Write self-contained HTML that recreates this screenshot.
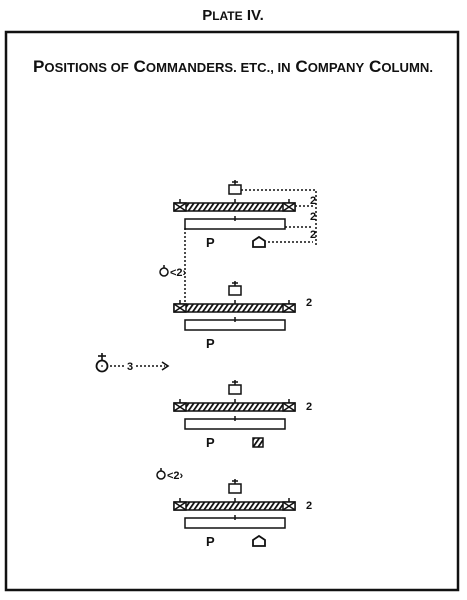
<!DOCTYPE html>
<html><head><meta charset="utf-8"><style>
html,body{margin:0;padding:0;background:#fff;}
svg{display:block;}
text{font-family:"Liberation Sans",sans-serif;fill:#111;}
</style></head><body>
<svg width="467" height="600" viewBox="0 0 467 600">
<defs>
<pattern id="hatch" width="5" height="8" patternUnits="userSpaceOnUse" patternTransform="skewX(-35)">
<rect width="5" height="8" fill="#fff"/><rect width="2.2" height="8" fill="#111"/>
</pattern>
</defs>
<text x="233" y="20" text-anchor="middle" font-size="15" font-weight="bold">P<tspan font-size="12">LATE</tspan> IV.</text>
<rect x="6" y="32" width="452" height="558" fill="none" stroke="#111" stroke-width="2.5"/>
<text x="233" y="72" text-anchor="middle" font-size="17" font-weight="bold" textLength="400" lengthAdjust="spacingAndGlyphs">P<tspan font-size="13">OSITIONS OF</tspan> C<tspan font-size="13">OMMANDERS. ETC., IN</tspan> C<tspan font-size="13">OMPANY</tspan> C<tspan font-size="13">OLUMN.</tspan></text>
<g id="forms"></g>
<g stroke="#111" stroke-width="1.5" stroke-dasharray="2,2" fill="none">
<path d="M241 190 H316 V245"/><path d="M295 206 H313"/><path d="M285 227 H313"/><path d="M268 242 H313"/>
<path d="M185 228 V302"/>
</g>
<g font-size="11" font-weight="bold">
<text x="310" y="204">2</text><text x="310" y="220">2</text><text x="310" y="238">2</text>
<text x="306" y="306">2</text><text x="306" y="410">2</text><text x="306" y="509">2</text>
</g>
<g>
<circle cx="164" cy="272" r="4" fill="none" stroke="#111" stroke-width="1.5"/><line x1="164" y1="265" x2="164" y2="268" stroke="#111" stroke-width="1.5"/>
<text x="170" y="276" font-size="11" font-weight="bold">&lt;2›</text></g>
<g>
<circle cx="161" cy="475" r="4" fill="none" stroke="#111" stroke-width="1.5"/><line x1="161" y1="468" x2="161" y2="471" stroke="#111" stroke-width="1.5"/>
<text x="167" y="479" font-size="11" font-weight="bold">&lt;2›</text></g>
<g>
<circle cx="102" cy="366" r="5.5" fill="none" stroke="#111" stroke-width="1.8"/><circle cx="102" cy="366" r="0.9" fill="#111"/>
<line x1="102" y1="353" x2="102" y2="360" stroke="#111" stroke-width="1.6"/><line x1="98" y1="356" x2="106" y2="356" stroke="#111" stroke-width="1.6"/>
<line x1="110" y1="366" x2="125" y2="366" stroke="#111" stroke-width="1.5" stroke-dasharray="2,2"/>
<text x="127" y="370" font-size="11" font-weight="bold">3</text>
<line x1="136" y1="366" x2="165" y2="366" stroke="#111" stroke-width="1.5" stroke-dasharray="2,2"/>
<path d="M162 362 L168 366 L162 370" fill="none" stroke="#111" stroke-width="1.6"/>
</g>
</svg>
<script>
const formationTops=[185,286,385,484];
const rearMarks=['dome','none','hatched','dome'];
const ns='http://www.w3.org/2000/svg';
const g=document.getElementById('forms');
function mk(t,a,p){const e=document.createElementNS(ns,t);for(const k in a)e.setAttribute(k,a[k]);p.appendChild(e);return e;}
formationTops.forEach((y0,i)=>{
 const f=mk('g',{},g);
 
 
 const s={stroke:'#111','stroke-width':1.5};
 mk('rect',Object.assign({x:229,y:y0,width:12,height:9,fill:'#fff'},s),f);
 mk('line',Object.assign({x1:235,y1:y0-5,x2:235,y2:y0},s),f);
 mk('line',Object.assign({x1:232,y1:y0-3,x2:238,y2:y0-3},s),f);
 const by=y0+18;
 mk('rect',Object.assign({x:174,y:by,width:121,height:8,fill:'url(#hatch)'},s),f);
 [174,283].forEach(x=>{mk('rect',Object.assign({x:x,y:by,width:12,height:8,fill:'#fff'},s),f);
  mk('path',Object.assign({d:`M${x} ${by}L${x+12} ${by+8}M${x+12} ${by}L${x} ${by+8}`},s),f);
  mk('line',Object.assign({x1:x+6,y1:by-4,x2:x+6,y2:by},s),f);});
 mk('line',Object.assign({x1:235,y1:by-4,x2:235,y2:by},s),f);
 const ry=by+16;
 mk('rect',Object.assign({x:185,y:ry,width:100,height:10,fill:'#fff'},s),f);
 mk('line',Object.assign({x1:235,y1:ry-3,x2:235,y2:ry+2},s),f);
 const t=mk('text',{x:206,y:ry+28,'font-size':13,'font-weight':'bold'},f);t.textContent='P';
 const m=rearMarks[i],my=ry+18;
 if(m==='dome')mk('path',Object.assign({d:`M253 ${my+10}V${my+4}L259 ${my}L265 ${my+4}V${my+10}Z`,fill:'#fff','stroke-width':1.8},{stroke:'#111'}),f);
 if(m==='hatched'){mk('rect',Object.assign({x:253,y:my+1,width:10,height:9,fill:'url(#hatch)'},s),f);}
});
</script>
</body></html>
